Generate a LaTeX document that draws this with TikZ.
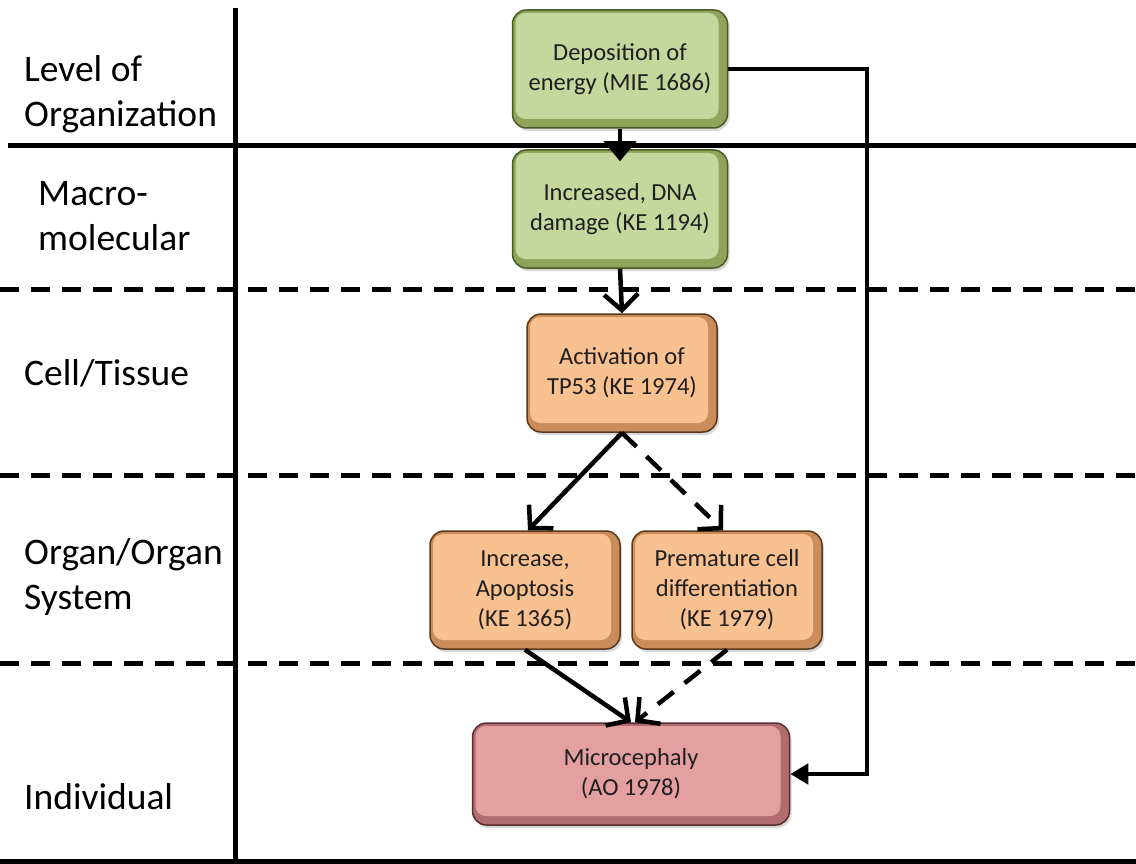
\documentclass[tikz,border=0pt]{standalone}
\usepackage{fontspec}
\setmainfont{Carlito}
\usetikzlibrary{arrows.meta,shadows}
\definecolor{grlight}{HTML}{C5D79C}
\definecolor{grmid}{HTML}{8FA35A}
\definecolor{gredge}{HTML}{4A5A22}
\definecolor{orlight}{HTML}{F9C090}
\definecolor{ormid}{HTML}{C98C5A}
\definecolor{oredge}{HTML}{5A3A1E}
\definecolor{pklight}{HTML}{E4A0A1}
\definecolor{pkmid}{HTML}{B06C6E}
\definecolor{pkedge}{HTML}{5A2E30}
\newcommand{\boxfont}{\fontsize{24.5}{30}\selectfont}
\newcommand{\lblfont}{\fontsize{37.5}{45}\selectfont}
\tikzset{
  bevel/.style={path picture={\fill[#1, rounded corners=10pt]
      ([xshift=3pt,yshift=-3pt]path picture bounding box.north west) rectangle
      ([xshift=-9pt,yshift=9pt]path picture bounding box.south east);}},
  boxbase/.style={draw=#1, line width=1.5pt, rounded corners=14pt, align=center,
      font=\boxfont, text=black!88, inner sep=0pt,
      drop shadow={opacity=0.3, shadow xshift=2pt, shadow yshift=-3pt}},
  greenbox/.style={boxbase=gredge, fill=grmid, bevel=grlight, minimum width=215, minimum height=118},
  orangebox/.style={boxbase=oredge, fill=ormid, bevel=orlight, minimum width=190, minimum height=118},
  pinkbox/.style={boxbase=pkedge, fill=pkmid, bevel=pklight, minimum width=317, minimum height=102},
  lbl/.style={anchor=west, align=left, inner sep=0pt, font=\lblfont},
  solidrule/.style={line width=5pt},
  dashrule/.style={line width=5pt, dash pattern=on 19pt off 12pt},
  conn/.style={line width=4.5pt, -{Straight Barb[length=16pt,width=34pt]}},
  dconn/.style={conn, dash pattern=on 20pt off 14pt},
}
\begin{document}
\begin{tikzpicture}[x=1pt,y=-1pt]
\useasboundingbox[fill=white] (0,0) rectangle (1136,864);
% grid lines
\draw[solidrule] (235,8) -- (235,864);
\draw[solidrule] (8,146) -- (1136,146);
\draw[dashrule] (0,289) -- (1136,289);
\draw[dashrule] (0,475) -- (1136,475);
\draw[dashrule] (0,663) -- (1136,663);
\draw[solidrule] (0,861) -- (1136,861);
% labels
\node[lbl] (l0) at (24,94) {Level of\\Organization};
\node[lbl] (l1) at (38,216) {Macro-\\molecular};
\node[lbl] (l2) at (24,373) {Cell/Tissue};
\node[lbl] (l3) at (24,577) {Organ/Organ\\System};
\node[lbl] (l4) at (24,797) {Individual};
% boxes
\node[greenbox] (b1) at (620,69) {Deposition of\\energy (MIE 1686)};
\node[greenbox] (b2) at (620,209) {Increased, DNA\\damage (KE 1194)};
\node[orangebox] (b3) at (622,373) {Activation of\\TP53 (KE 1974)};
\node[orangebox] (b4) at (525,590) {Increase,\\Apoptosis\\(KE 1365)};
\node[orangebox] (b5) at (727,590) {Premature cell\\differentiation\\(KE 1979)};
\node[pinkbox] (b6) at (631,774) {Microcephaly\\(AO 1978)};
% connectors
\coordinate (r) at (867,69);
\draw[line width=4.5pt, -{Triangle[length=20pt,width=32pt]}] (b1.south) -- ([yshift=-12pt]b2.north);
\draw[conn] (b2.south) -- (b3.north);
\draw[conn] (b3.south) -- ([xshift=3pt]b4.north);
\draw[dconn] (b3.south) -- ([xshift=-4pt]b5.north);
\draw[conn] (b4.south) -- (b6.north);
\draw[dconn] (b5.south) -- ([xshift=4pt]b6.north);
\draw[line width=4.5pt, -{Triangle[length=18pt,width=20pt]}] (b1.east) -- (r) |- (b6.east);
\end{tikzpicture}
\end{document}
